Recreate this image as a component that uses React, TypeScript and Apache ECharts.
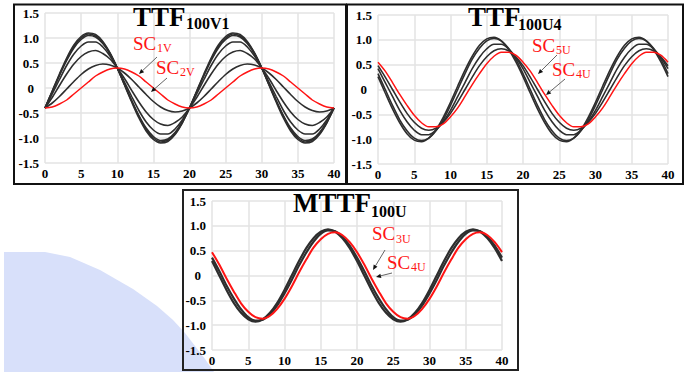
import React, { useEffect, useRef } from "react";
import * as echarts from "echarts";

// x positions (0..40 step 1)
const X_VALUES = [0, 1, 2, 3, 4, 5, 6, 7, 8, 9, 10, 11, 12, 13, 14, 15, 16, 17, 18, 19, 20, 21, 22, 23, 24, 25, 26, 27, 28, 29, 30, 31, 32, 33, 34, 35, 36, 37, 38, 39, 40];

// Panel 1: TTF100V1
const P1_RED = [-0.40, -0.38, -0.32, -0.24, -0.12, 0.00, 0.12, 0.24, 0.32, 0.38, 0.40, 0.38, 0.32, 0.24, 0.12, 0.00, -0.12, -0.24, -0.32, -0.38, -0.40, -0.38, -0.32, -0.24, -0.12, 0.00, 0.12, 0.24, 0.32, 0.38, 0.40, 0.38, 0.32, 0.24, 0.12, 0.00, -0.12, -0.24, -0.32, -0.38, -0.40];
const P1_B1 = [-0.40, -0.30, -0.17, -0.02, 0.13, 0.27, 0.38, 0.45, 0.48, 0.46, 0.40, 0.30, 0.17, 0.02, -0.13, -0.27, -0.38, -0.45, -0.48, -0.46, -0.40, -0.30, -0.17, -0.02, 0.13, 0.27, 0.38, 0.45, 0.48, 0.46, 0.40, 0.30, 0.17, 0.02, -0.13, -0.27, -0.38, -0.45, -0.48, -0.46, -0.40];
const P1_B2 = [-0.40, -0.19, 0.05, 0.28, 0.48, 0.63, 0.72, 0.75, 0.69, 0.58, 0.40, 0.19, -0.05, -0.28, -0.48, -0.63, -0.72, -0.75, -0.69, -0.58, -0.40, -0.19, 0.05, 0.28, 0.48, 0.63, 0.72, 0.75, 0.69, 0.58, 0.40, 0.19, -0.05, -0.28, -0.48, -0.63, -0.72, -0.75, -0.69, -0.58, -0.40];
const P1_B3 = [-0.40, -0.12, 0.17, 0.45, 0.68, 0.84, 0.92, 0.92, 0.82, 0.64, 0.40, 0.12, -0.17, -0.45, -0.68, -0.84, -0.92, -0.92, -0.82, -0.64, -0.40, -0.12, 0.17, 0.45, 0.68, 0.84, 0.92, 0.92, 0.82, 0.64, 0.40, 0.12, -0.17, -0.45, -0.68, -0.84, -0.92, -0.92, -0.82, -0.64, -0.40];
const P1_B4 = [-0.40, -0.08, 0.25, 0.55, 0.80, 0.97, 1.05, 1.02, 0.89, 0.68, 0.40, 0.08, -0.25, -0.55, -0.80, -0.97, -1.05, -1.02, -0.89, -0.68, -0.40, -0.08, 0.25, 0.55, 0.80, 0.97, 1.05, 1.02, 0.89, 0.68, 0.40, 0.08, -0.25, -0.55, -0.80, -0.97, -1.05, -1.02, -0.89, -0.68, -0.40];
const P1_B5 = [-0.40, -0.07, 0.26, 0.57, 0.83, 1.00, 1.08, 1.04, 0.91, 0.69, 0.40, 0.07, -0.26, -0.57, -0.83, -1.00, -1.08, -1.04, -0.91, -0.69, -0.40, -0.07, 0.26, 0.57, 0.83, 1.00, 1.08, 1.04, 0.91, 0.69, 0.40, 0.07, -0.26, -0.57, -0.83, -1.00, -1.08, -1.04, -0.91, -0.69, -0.40];
const P1_B6 = [-0.40, -0.06, 0.28, 0.60, 0.86, 1.03, 1.10, 1.07, 0.93, 0.70, 0.40, 0.06, -0.28, -0.60, -0.86, -1.03, -1.10, -1.07, -0.93, -0.70, -0.40, -0.06, 0.28, 0.60, 0.86, 1.03, 1.10, 1.07, 0.93, 0.70, 0.40, 0.06, -0.28, -0.60, -0.86, -1.03, -1.10, -1.07, -0.93, -0.70, -0.40];

// Panel 2: TTF100U4
const P2_RED = [0.55, 0.37, 0.14, -0.10, -0.32, -0.52, -0.67, -0.75, -0.75, -0.69, -0.55, -0.37, -0.14, 0.10, 0.32, 0.52, 0.67, 0.75, 0.75, 0.69, 0.55, 0.37, 0.14, -0.10, -0.32, -0.52, -0.67, -0.75, -0.75, -0.69, -0.55, -0.37, -0.14, 0.10, 0.32, 0.52, 0.67, 0.75, 0.75, 0.69, 0.55];
const P2_B1 = [0.26, -0.07, -0.39, -0.67, -0.89, -1.02, -1.05, -0.98, -0.81, -0.56, -0.26, 0.07, 0.39, 0.67, 0.89, 1.02, 1.05, 0.98, 0.81, 0.56, 0.26, -0.07, -0.39, -0.67, -0.89, -1.02, -1.05, -0.98, -0.81, -0.56, -0.26, 0.07, 0.39, 0.67, 0.89, 1.02, 1.05, 0.98, 0.81, 0.56, 0.26];
const P2_B2 = [0.32, 0.00, -0.32, -0.61, -0.83, -0.98, -1.03, -0.98, -0.83, -0.61, -0.32, 0.00, 0.32, 0.61, 0.83, 0.98, 1.03, 0.98, 0.83, 0.61, 0.32, 0.00, -0.32, -0.61, -0.83, -0.98, -1.03, -0.98, -0.83, -0.61, -0.32, 0.00, 0.32, 0.61, 0.83, 0.98, 1.03, 0.98, 0.83, 0.61, 0.32];
const P2_B3 = [0.42, 0.14, -0.14, -0.42, -0.65, -0.82, -0.91, -0.91, -0.82, -0.65, -0.42, -0.14, 0.14, 0.42, 0.65, 0.82, 0.91, 0.91, 0.82, 0.65, 0.42, 0.14, -0.14, -0.42, -0.65, -0.82, -0.91, -0.91, -0.82, -0.65, -0.42, -0.14, 0.14, 0.42, 0.65, 0.82, 0.91, 0.91, 0.82, 0.65, 0.42];
const P2_B4 = [0.48, 0.25, 0.00, -0.25, -0.48, -0.66, -0.78, -0.82, -0.78, -0.66, -0.48, -0.25, 0.00, 0.25, 0.48, 0.66, 0.78, 0.82, 0.78, 0.66, 0.48, 0.25, 0.00, -0.25, -0.48, -0.66, -0.78, -0.82, -0.78, -0.66, -0.48, -0.25, 0.00, 0.25, 0.48, 0.66, 0.78, 0.82, 0.78, 0.66, 0.48];

// Panel 3: MTTF100U
const P3_RED = [0.47, 0.22, -0.06, -0.32, -0.56, -0.73, -0.84, -0.87, -0.81, -0.67, -0.47, -0.22, 0.06, 0.32, 0.56, 0.73, 0.84, 0.87, 0.81, 0.67, 0.47, 0.22, -0.06, -0.32, -0.56, -0.73, -0.84, -0.87, -0.81, -0.67, -0.47, -0.22, 0.06, 0.32, 0.56, 0.73, 0.84, 0.87, 0.81, 0.67, 0.47];
const P3_B1 = [0.29, 0.00, -0.29, -0.55, -0.75, -0.88, -0.93, -0.88, -0.75, -0.55, -0.29, 0.00, 0.29, 0.55, 0.75, 0.88, 0.93, 0.88, 0.75, 0.55, 0.29, 0.00, -0.29, -0.55, -0.75, -0.88, -0.93, -0.88, -0.75, -0.55, -0.29, 0.00, 0.29, 0.55, 0.75, 0.88, 0.93, 0.88, 0.75, 0.55, 0.29];
const P3_B2 = [0.36, 0.09, -0.20, -0.46, -0.68, -0.84, -0.91, -0.89, -0.78, -0.60, -0.36, -0.09, 0.20, 0.46, 0.68, 0.84, 0.91, 0.89, 0.78, 0.60, 0.36, 0.09, -0.20, -0.46, -0.68, -0.84, -0.91, -0.89, -0.78, -0.60, -0.36, -0.09, 0.20, 0.46, 0.68, 0.84, 0.91, 0.89, 0.78, 0.60, 0.36];

const SERIF = "Liberation Serif";

function pairs(ys: number[]) {
  return X_VALUES.map((x, i) => [x, ys[i]]);
}

function lineSeries(idx: number, ys: number[], color: string, width: number) {
  return {
    type: "line",
    xAxisIndex: idx,
    yAxisIndex: idx,
    data: pairs(ys),
    showSymbol: false,
    symbol: "none",
    smooth: 0.3,
    lineStyle: { color, width },
    silent: true,
  };
}

function txt(x: number, yc: number, text: string, size: number, color: string, bold: boolean) {
  return {
    type: "text",
    x,
    y: yc,
    z: 20,
    style: {
      text,
      fill: color,
      fontSize: size,
      fontWeight: bold ? "bold" : "normal",
      fontFamily: SERIF,
      align: "left",
      verticalAlign: "middle",
      textAlign: "left",
      textVerticalAlign: "middle",
    },
  };
}

function arrow(x1: number, y1: number, x2: number, y2: number) {
  const dx = x2 - x1;
  const dy = y2 - y1;
  const len = Math.sqrt(dx * dx + dy * dy);
  const ux = dx / len;
  const uy = dy / len;
  const hl = 5;
  const hw = 2.2;
  const bx = x2 - ux * hl;
  const by = y2 - uy * hl;
  return [
    {
      type: "line",
      z: 20,
      shape: { x1, y1, x2: bx, y2: by },
      style: { stroke: "#666", lineWidth: 1 },
    },
    {
      type: "polygon",
      z: 20,
      shape: {
        points: [
          [x2, y2],
          [bx - uy * hw, by + ux * hw],
          [bx + uy * hw, by - ux * hw],
        ],
      },
      style: { fill: "#111" },
    },
  ];
}

const GRIDS = [
  { left: 45, top: 13, width: 289, height: 150 },
  { left: 378, top: 15, width: 290, height: 149 },
  { left: 212, top: 201, width: 290, height: 149 },
];

const labelStyle = {
  color: "#000",
  fontFamily: SERIF,
  fontWeight: "bold",
  fontSize: 13,
};

export default function App() {
  const ref = useRef<HTMLDivElement>(null);

  useEffect(() => {
    if (!ref.current) return;
    const chart = echarts.init(ref.current, undefined, { renderer: "svg" });

    const xAxes = GRIDS.map((_, i) => ({
      type: "value",
      gridIndex: i,
      min: 0,
      max: 40,
      interval: 5,
      axisLine: { show: false },
      axisTick: { show: false },
      axisLabel: { ...labelStyle, margin: 4 },
      splitLine: { show: true, lineStyle: { color: "#e3e3e3", width: 1.5 } },
    }));
    const yAxes = GRIDS.map((_, i) => ({
      type: "value",
      gridIndex: i,
      min: -1.5,
      max: 1.5,
      interval: 0.5,
      axisLine: { show: false },
      axisTick: { show: false },
      axisLabel: {
        ...labelStyle,
        margin: 6,
        formatter: (v: number) => (Math.abs(v) < 1e-9 ? "{z|0}" : v.toFixed(1)),
        rich: { z: { ...labelStyle, padding: [0, 5, 0, 0] } },
      },
      splitLine: { show: true, lineStyle: { color: "#e3e3e3", width: 1.5 } },
    }));

    const BLACK = "#2e2e2e";
    const RED = "#ff1414";

    const series = [
      lineSeries(0, P1_B1, BLACK, 1.6),
      lineSeries(0, P1_B2, BLACK, 1.6),
      lineSeries(0, P1_B3, BLACK, 1.6),
      lineSeries(0, P1_B4, BLACK, 1.6),
      lineSeries(0, P1_B5, BLACK, 1.6),
      lineSeries(0, P1_B6, BLACK, 1.6),
      lineSeries(0, P1_RED, RED, 1.5),
      lineSeries(1, P2_B1, BLACK, 1.6),
      lineSeries(1, P2_B2, BLACK, 1.6),
      lineSeries(1, P2_B3, BLACK, 1.6),
      lineSeries(1, P2_B4, BLACK, 1.6),
      lineSeries(1, P2_RED, RED, 1.5),
      lineSeries(2, P3_B1, BLACK, 2.2),
      lineSeries(2, P3_B2, BLACK, 2.2),
      lineSeries(2, P3_RED, RED, 2),
    ];

    const graphic: any[] = [
      {
        type: "polygon",
        z: -10,
        silent: true,
        shape: {
          points: [
            [4, 252], [45, 252], [70, 257], [100, 270], [133, 289], [157, 306],
            [173, 320], [185, 333], [195, 346], [205, 359], [214, 372], [4, 372],
          ],
        },
        style: { fill: "#d8e0fa" },
      },
      { type: "rect", z: 15, shape: { x: 14, y: 4.5, width: 332, height: 179.5 }, style: { fill: "none", stroke: "#111", lineWidth: 2 } },
      { type: "rect", z: 15, shape: { x: 347, y: 4.5, width: 336, height: 179.5 }, style: { fill: "none", stroke: "#111", lineWidth: 2 } },
      { type: "rect", z: 15, shape: { x: 183, y: 190, width: 335, height: 180 }, style: { fill: "none", stroke: "#222", lineWidth: 2 } },

      txt(133, 16.5, "TTF", 27, "#000", true),
      txt(186, 23.5, "100V1", 16, "#000", true),
      txt(468, 16.7, "TTF", 27, "#000", true),
      txt(518, 24, "100U4", 16, "#000", true),
      txt(293, 202.8, "MTTF", 27, "#000", true),
      txt(371, 211, "100U", 16, "#000", true),

      txt(133, 43.5, "SC", 19, RED, false),
      txt(157, 48, "1V", 12, RED, false),
      txt(156, 67.5, "SC", 19, RED, false),
      txt(180, 72, "2V", 12, RED, false),

      txt(532, 45, "SC", 19, RED, false),
      txt(556, 49.5, "5U", 12, RED, false),
      txt(552, 69.5, "SC", 19, RED, false),
      txt(576, 74, "4U", 12, RED, false),

      txt(372, 233.5, "SC", 19, RED, false),
      txt(396, 238.5, "3U", 12, RED, false),
      txt(387, 262, "SC", 19, RED, false),
      txt(411, 266.5, "4U", 12, RED, false),

      ...arrow(157, 57, 139, 74),
      ...arrow(167, 78, 151, 92),
      ...arrow(557, 55, 538, 74),
      ...arrow(565, 79, 546, 95),
      ...arrow(385, 250, 373, 270),
      ...arrow(392, 273, 376, 277),
    ];

    chart.setOption({
      animation: false,
      backgroundColor: "#fff",
      grid: GRIDS.map((g) => ({ ...g, containLabel: false })),
      xAxis: xAxes,
      yAxis: yAxes,
      series,
      graphic,
    } as any);

    return () => chart.dispose();
  }, []);

  return (
    <div
      ref={ref}
      style={{ position: "fixed", left: 0, top: 0, width: 688, height: 372 }}
    />
  );
}
